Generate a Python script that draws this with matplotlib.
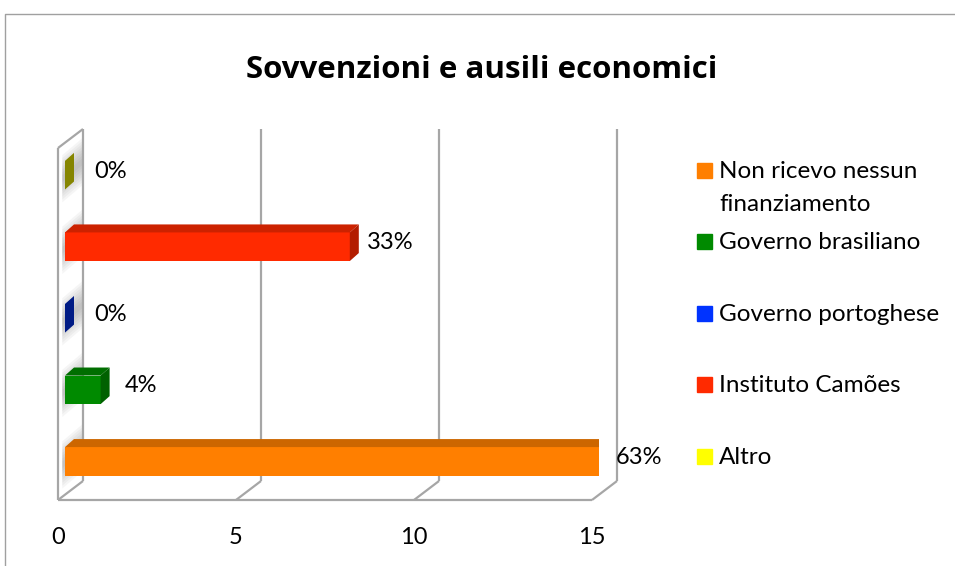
import numpy as np
import matplotlib.pyplot as plt
from matplotlib.patches import Polygon, Rectangle
from matplotlib.lines import Line2D
from matplotlib.colors import to_rgb

plt.rcParams['font.family'] = ['Lato', 'DejaVu Sans']

# dati del grafico
categorie = ['Non ricevo nessun\nfinanziamento', 'Governo brasiliano',
             'Governo portoghese', 'Instituto Camões', 'Altro']
valori = [15, 1, 0, 8, 0]
colori = ['#FF7F00', '#008A00', '#0033FF', '#FF2A00', '#FFFF00']
tick_x = [0, 5, 10, 15]
titolo = 'Sovvenzioni e ausili economici'

totale = sum(valori)
percentuali = [f'{int(v / totale * 100 + 0.5)}%' for v in valori]

W, H = 955, 566
fig = plt.figure(figsize=(W / 100, H / 100), dpi=100)

# assi = piano frontale delle barre
ax = fig.add_axes([65 / W, (H - 495) / H, 534 / W, 352 / H])
ax.set_xlim(0, 15)
ax.set_ylim(-0.47, 4.45)
ax.axis('off')

# conversione pixel -> unita' dati (per l'effetto 3D)
sx = 534 / 15
sy = 352 / (4.45 + 0.47)


def px(dx, dy):
    return dx / sx, dy / sy


def scuro(c, f):
    r, g, b = to_rgb(c)
    return (r * f, g * f, b * f)


fronte = px(-7, -5)    # piano frontale della "scatola"
muro = px(25, 19)      # profondita' della scatola
prof = px(9, 8)        # profondita' delle barre

fx0 = fronte[0]
fy = -0.47 + fronte[1]
ft = 4.45 + fronte[1]
bx0 = fx0 + muro[0]
by = fy + muro[1]
bt = ft + muro[1]

grigio = '#A6A6A6'
lw = 1.6


def linea(xs, ys):
    ax.add_line(Line2D(xs, ys, color=grigio, lw=lw, clip_on=False, zorder=1,
                       solid_capstyle='butt'))


# ombre sulla parete sinistra
y = np.arange(len(valori))
for yi in y:
    for k in range(8):
        d = 0.05 + k * 0.04
        a, b = yi - d, yi + d
        ax.add_patch(Polygon([(fx0 + 0.12, a + fronte[1] + 0.02), (bx0, a + fronte[1] + muro[1]),
                              (bx0, b + fronte[1] + muro[1]), (fx0 + 0.12, b + fronte[1] + 0.02)],
                             closed=True, color='#7F7F7F', alpha=0.07, lw=0,
                             clip_on=False, zorder=0.5))

# parete sinistra e pavimento
linea([fx0, fx0], [fy, ft])
linea([bx0, bx0], [by, bt])
linea([fx0, bx0], [ft, bt])
linea([fx0, bx0], [fy, by])
linea([fx0, fx0 + 15], [fy, fy])
for v in tick_x[1:]:
    linea([bx0 + v, bx0 + v], [by, bt])
    linea([fx0 + v, bx0 + v], [fy, by])

# barre
h = 0.4
ax.barh(y, valori, height=h, color=colori, zorder=3)
for yi, v, c in zip(y, valori, colori):
    top = Polygon([(0, yi + h / 2), (v, yi + h / 2),
                   (v + prof[0], yi + h / 2 + prof[1]), (prof[0], yi + h / 2 + prof[1])],
                  closed=True, color=scuro(c, 0.8), lw=0, zorder=3)
    f_lato = 0.7 if v > 0 else 0.52
    lato = Polygon([(v, yi - h / 2), (v, yi + h / 2),
                    (v + prof[0], yi + h / 2 + prof[1]), (v + prof[0], yi - h / 2 + prof[1])],
                   closed=True, color=scuro(c, f_lato), lw=0, zorder=3)
    ax.add_patch(top)
    ax.add_patch(lato)

# etichette percentuali (quelle a zero un po' piu' staccate, come nell'originale)
for yi, v, p in zip(y, valori, percentuali):
    dx = 40 if v > 0 else 46
    ax.annotate(p, (v, yi), xytext=(dx, 4), textcoords='offset pixels',
                ha='center', va='center', fontsize=17, color='black',
                annotation_clip=False)

# etichette asse x
for v in tick_x:
    ax.annotate(str(v), (fx0 + v, fy), xytext=(0, -37), textcoords='offset pixels',
                ha='center', va='center', fontsize=17, annotation_clip=False)

# titolo
fig.text(482 / W, 1 - 70 / H, titolo, ha='center', va='center',
         fontsize=22.5, fontweight='bold', family=['Open Sans', 'DejaVu Sans'])

# legenda
for i, (lab, c) in enumerate(zip(categorie, colori)):
    yc = 1 - (170 + i * 71.5) / H
    fig.patches.append(Rectangle((697 / W, yc - 7.5 / H), 15 / W, 15 / H,
                                 transform=fig.transFigure, color=c))
    for j, riga in enumerate(lab.split('\n')):
        fig.text(719 / W, yc - (8 + 33 * j) / H, riga, ha='left', va='baseline',
                 fontsize=17.5)

# cornice esterna
fig.lines.append(Line2D([5 / W, 5 / W, 1], [0, 1 - 14 / H, 1 - 14 / H],
                        transform=fig.transFigure, color='#A0A0A0', lw=1))

fig.savefig('out.png', dpi=100)
